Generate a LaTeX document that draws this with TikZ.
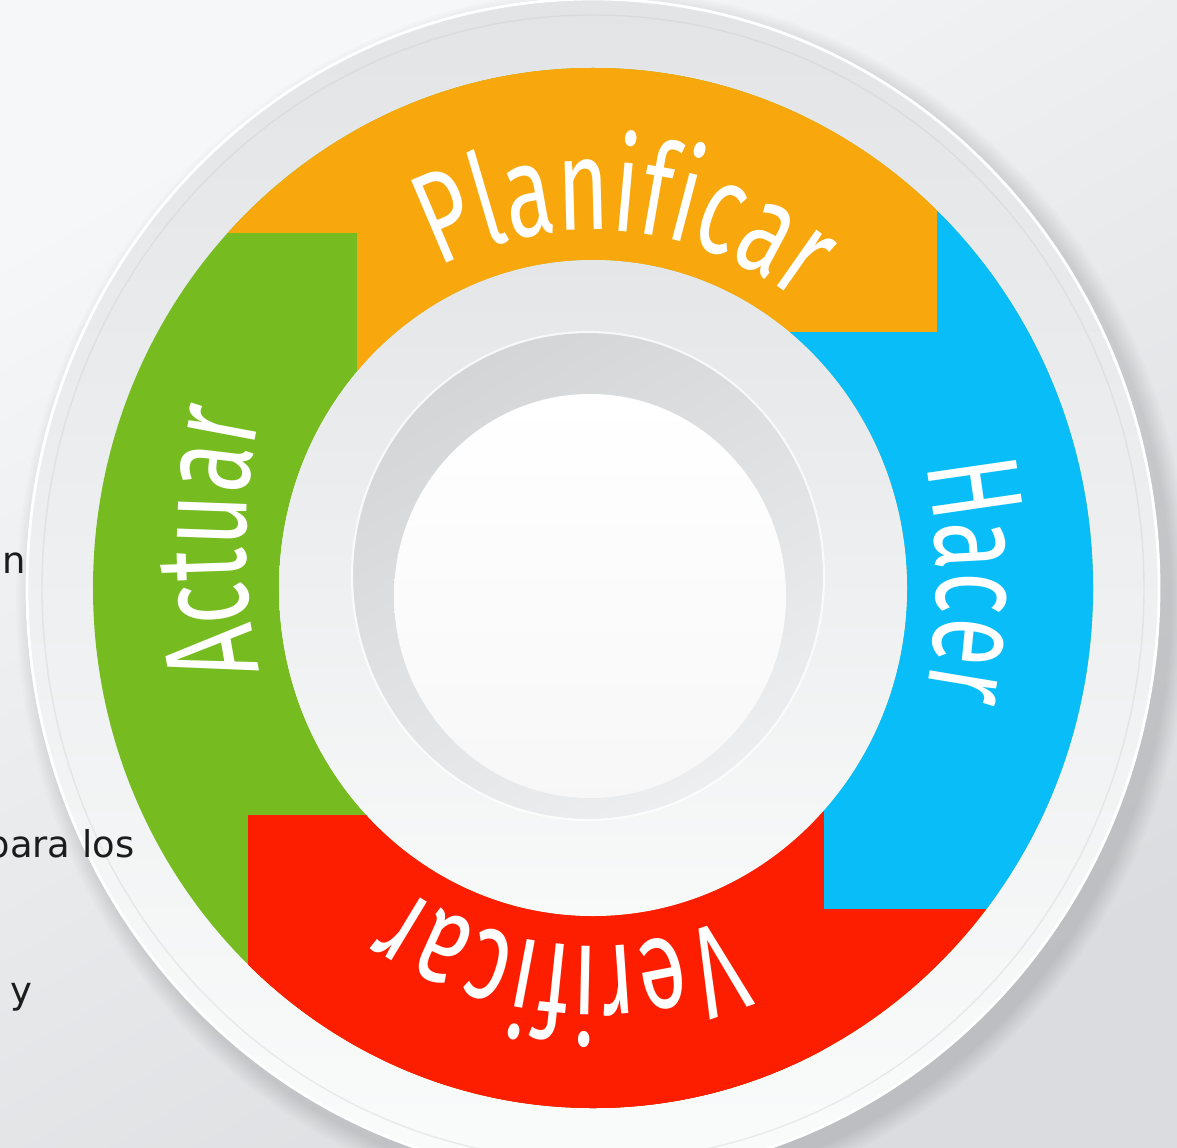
\documentclass[tikz,border=0pt]{standalone}
\usepackage{fontspec}
\usetikzlibrary{decorations.text}
\newfontfamily\ringfont{Fira Sans}[FakeStretch=0.68]
\newfontfamily\notefont{DejaVu Sans}
\newcommand\ringsize{\ringfont\fontsize{37}{44}\selectfont}
\definecolor{planorange}{HTML}{F8A70C}
\definecolor{hacerblue}{HTML}{08BDF8}
\definecolor{verifred}{HTML}{FD1E00}
\definecolor{actuargreen}{HTML}{76BB1F}
\definecolor{bglight}{HTML}{F6F7F8}
\definecolor{bgdark}{HTML}{DADCDF}
\definecolor{rimtop}{HTML}{E2E4E6}
\definecolor{rimbottom}{HTML}{FAFBFB}
\definecolor{bandtop}{HTML}{E4E6E8}
\definecolor{bandbottom}{HTML}{F8F9F9}
\definecolor{holetop}{HTML}{D4D5D7}
\definecolor{holebottom}{HTML}{EDEEEF}
\definecolor{notetext}{HTML}{1C1C1C}
\tikzset{
  ringlabel/.style={decorate, decoration={text along path, text align=center,
      text color=white, text={|\ringsize|#1}}},
  notelabel/.style={anchor=base east, inner sep=0pt, text=notetext,
      font=\notefont\fontsize{10.5}{13}\selectfont},
}
\begin{document}
\begin{tikzpicture}[x=0.1mm, y=0.1mm]
            \useasboundingbox (0,0) rectangle (1177,1147);
            \clip (0,0) rectangle (1177,1147);
            \shade [top color=bglight, bottom color=bgdark, shading angle=30] (0,0) rectangle (1177,1147);
            \coordinate (c) at (593,559);
            \foreach \k in {1,...,10}
                \fill [black, opacity=0.012] (603,547) ellipse [x radius=567+2*\k, y radius=590+2*\k];
            \shade [top color=rimtop, bottom color=rimbottom] (c) ellipse [x radius=567, y radius=590];
            \draw [white, line width=0.8pt] (c) ellipse [x radius=566, y radius=589];
            \draw [rimtop!70!gray, line width=0.4pt, opacity=0.3] (c) ellipse [x radius=551, y radius=573];
            \begin{scope}[even odd rule]
                \clip (c) ellipse [x radius=500, y radius=520] (c) ellipse [x radius=314, y radius=328];
                \fill [actuargreen] (0,0) rectangle (1177,1147);
                \fill [planorange] (0,914) rectangle (937,1147);
                \fill [planorange] (357,559) rectangle (937,1147);
                \fill [hacerblue] (937,238) rectangle (1177,1147);
                \fill [hacerblue] (593,238) rectangle (937,815);
                \fill [verifred] (248,0) rectangle (1177,238);
                \fill [verifred] (248,0) rectangle (824,332);
                \fill [verifred] (593,0) rectangle (824,559);
            \end{scope}
            \shade [top color=bandtop, bottom color=bandbottom] (c) ellipse [x radius=314, y radius=328];
            \shade [top color=holetop, bottom color=holebottom, shading angle=30] (588,571) ellipse [x radius=235, y radius=243];
            \draw [white, line width=0.6pt, opacity=0.7] (588,571) ellipse [x radius=236, y radius=244];
            \shade [top color=white, bottom color=white!94!gray] (590,551) ellipse [x radius=196, y radius=202];
            \path [ringlabel={Planificar}] (c) ++(145:344 and 358) arc [start angle=145, end angle=25, x radius=344, y radius=358];
            \path [ringlabel={Hacer}] (337,567) ++(30:600) arc [start angle=30, end angle=-30, radius=600];
            \path [ringlabel={Verificar}] (c) ++(325:344 and 358) arc [start angle=325, end angle=205, x radius=344, y radius=358];
            \path [ringlabel={Actuar}] (846,604) ++(210:600) arc [start angle=210, end angle=150, radius=600];
            \node [notelabel] (noteA) at (27,574) {an};
            \node [notelabel] (noteB) at (135,290) {para los};
            \node [notelabel] (noteC) at (33,144) {y};
        \end{tikzpicture}
\end{document}
